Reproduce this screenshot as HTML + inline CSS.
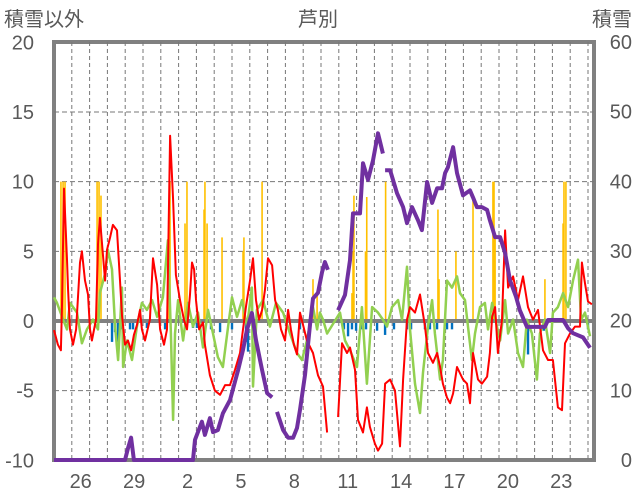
<!DOCTYPE html>
<html><head><meta charset="utf-8">
<style>
body{margin:0;background:#fff;}
#wrap{position:relative;width:636px;height:501px;}
svg text{font-family:"Liberation Sans","Noto Sans CJK JP",sans-serif;fill:#595959;}
#framebox{position:absolute;left:52px;top:40px;width:536px;height:414px;border:4px solid #808080;}
#zerobar{position:absolute;left:54px;top:319px;width:540px;height:4px;background:#808080;}
#chart{position:absolute;left:0;top:0;}
</style></head>
<body>
<div id="wrap">
<div id="framebox"></div>
<div id="zerobar"></div>
<svg id="chart" width="636" height="501" viewBox="0 0 636 501" xmlns="http://www.w3.org/2000/svg">
<g id="grid"></g>
<g id="bars"></g>
<g id="lines"></g>
<g id="labels"></g>
<text x="4" y="26" font-size="20">積雪以外</text>
<text x="318" y="26" font-size="20" text-anchor="middle">芦別</text>
<text x="632" y="26" font-size="20" text-anchor="end">積雪</text>
</svg>
</div>
<script>
const dayLabels=["26","29","2","5","8","11","14","17","20","23"];
const dayLabelIdx=[1,4,7,10,13,16,19,22,25,28];
const leftTicks=[20,15,10,5,0,-5,-10];
const rightTicks=[60,50,40,30,20,10,0];
const redT=[0,0.22,0.39,0.45,0.56,0.73,0.79,0.9,1.07,1.24,1.46,1.57,1.74,1.91,2.02,2.13,2.36,2.47,2.58,2.75,2.87,2.98,3.15,3.31,3.54,3.71,3.82,3.99,4.16,4.33,4.49,4.66,4.83,4.94,5.11,5.39,5.56,5.79,5.96,6.18,6.35,6.52,6.69,6.85,7.08,7.3,7.47,7.64,7.75,7.87,7.98,8.15,8.37,8.48,8.76,9.04,9.33,9.61,9.89,10.17,10.45,10.62,10.79,11.01,11.18,11.35,11.52,11.69,11.85,12.02,12.25,12.42,12.58,12.75,12.98,13.15,13.31,13.48,13.65,13.82,14.21,14.55,14.83,15.11,15.34,15.6,15.96,16.18,16.46,16.63,16.91,17.08,17.36,17.58,17.75,18.03,18.2,18.43,18.6,18.88,19.16,19.44,19.61,19.83,20,20.28,20.56,20.84,21.01,21.29,21.52,21.69,21.85,22.08,22.25,22.42,22.64,22.98,23.2,23.37,23.54,23.82,24.04,24.33,24.49,24.61,24.78,24.94,25.17,25.34,25.51,25.79,26.07,26.35,26.63,26.91,27.19,27.47,27.75,28.03,28.31,28.54,28.71,28.99,29.27,29.55,29.66,29.83,30,30.22];
const redV=[-0.65,-1.7,-2.1,1.15,9.5,4.4,2.2,-0.6,-1.7,-0.6,4.2,5,2.9,1.9,-0.6,-1.4,0.1,5.5,7.4,4.7,2.9,5.1,6,6.9,6.5,2.9,0.4,-1.7,-1.4,-2.1,-1,-0.3,0.8,-0.6,-1.4,0.1,4.5,2.6,-0.6,-1.7,-0.6,13.3,8.7,3.3,1.5,0.1,-0.6,1.9,4.2,3.7,1.5,-0.6,-0.1,-1.7,-3.9,-5,-5.3,-4.6,-4.6,-3.5,-2.3,-0.6,1.1,2.9,4.5,1.5,0.1,0.8,2.2,4.5,4,1.5,0.8,-0.6,-1.4,0.8,-0.6,-1.7,-2.4,0.6,-1.4,-2.3,-3.9,-4.7,-8,null,-6.9,-1.6,-2.3,-1.9,-3.5,-7.1,-8,-6.2,-7.6,-8.8,-9.3,-8.8,-4.5,-4.2,-5,-9,-4.2,0.1,1,0.6,1.9,-0.4,-2.3,-3,-2.3,-3.3,-4.5,-5.5,-5.9,-5.2,-3.3,-4.2,-4.5,-5.9,-2.3,-4.2,-4.5,-4,-2.3,0.3,1,-2.3,0.1,6.5,2.4,3.2,1.5,3.2,1,0.1,0.8,-2.1,-2.8,-2.8,-6.2,-6.4,-1.6,-0.9,-0.4,-0.4,4.2,2.7,1.4,1.2];
const greenT=[0,0.17,0.51,0.73,0.9,1.29,1.57,1.85,2.19,2.47,2.58,2.87,3.03,3.26,3.43,3.6,3.82,3.88,4.1,4.38,4.66,4.94,5.22,5.51,5.79,6.12,6.4,6.57,6.69,6.8,6.97,7.25,7.53,7.81,8.09,8.37,8.65,8.93,9.21,9.49,9.78,10,10.28,10.56,10.84,11.12,11.18,11.4,11.74,12.13,12.47,12.87,13.26,13.65,13.93,14.21,14.55,14.78,14.94,15.11,15.34,16.07,16.35,16.63,17.02,17.3,17.58,17.87,18.2,18.48,18.71,18.99,19.33,19.55,19.83,20,20.28,20.56,20.73,21.01,21.24,21.4,21.69,21.85,22.08,22.36,22.64,22.81,23.09,23.26,23.48,23.65,23.93,24.21,24.38,24.61,24.89,25.06,25.34,25.51,25.79,26.07,26.35,26.57,26.85,27.13,27.3,27.58,27.87,28.03,28.31,28.6,28.88,29.16,29.44,29.61,29.83,30.11];
const greenV=[1.7,1.3,0.1,-0.6,1.3,0.6,-1.6,-0.6,0.1,-0.6,2,3.4,5.1,3.7,-0.4,-2.8,2.4,-3.3,-1.4,-2.8,-0.4,1.3,0.8,1.5,0.3,1.7,5.8,-0.9,-7.1,-0.9,1.5,-1.4,1.3,-0.4,0.6,-1.9,0.8,-0.9,-2.6,-3.3,-0.4,1.7,0.3,1.5,-0.4,2.4,-4.7,0.8,1.5,-0.4,1.3,0.6,-0.9,-2.3,-2.8,-1.4,1,-0.6,0.6,0.1,-0.9,0.6,-1.4,-2.1,-3.3,1,-4.5,1,0.6,0.1,-0.4,1,1.5,0.1,3.9,-0.6,-4.5,-6.6,-3.7,-0.4,1.5,-0.9,-4.2,-2.8,2.9,2.4,3.2,2,1.5,-0.4,-2.8,-0.9,1,1.3,-0.6,1.3,-0.4,-1.4,1.5,-0.9,0.1,-2.3,-3.3,0.1,-0.9,-4.2,-0.9,0.1,-2.3,0.6,1,2,1,2.9,4.4,0.1,0.6,-1.1];
const snowT=[0,3.99,4.16,4.33,4.49,7.81,7.92,8.31,8.48,8.76,8.93,9.21,9.49,9.89,10.34,10.62,10.84,11.12,11.35,11.69,11.97,12.25,12.4,12.53,12.87,13.15,13.43,13.65,13.82,14.1,14.38,14.55,14.83,15.06,15.22,15.39,15.6,15.96,16.35,16.63,16.8,17.19,17.36,17.64,17.92,18.2,18.48,18.55,18.6,18.88,19.27,19.61,19.83,20.11,20.45,20.67,20.96,21.24,21.52,21.8,21.97,22.13,22.42,22.64,22.98,23.37,23.54,23.76,24.04,24.33,24.49,24.78,25.06,25.34,25.62,25.96,26.17,26.57,27.58,27.75,28.6,28.88,29.16,29.72,30.11];
const snowV=[0,0,1.7,3.2,0,0,2.9,5.5,3.6,6,4,4.3,6.7,8.6,12.9,15.8,18.7,21.1,17.2,12.9,9.6,9,null,6.9,4.3,3.2,3.2,4.6,7.2,12.2,19.4,23.2,24,27,28.4,27.3,null,21.5,23.7,28.7,35.4,35.4,42.6,40.2,43,46.9,44,null,41.6,41.6,38.3,36.3,34,36.3,34.4,33,39.9,36.9,39,39,41.2,42,44.9,41.2,38,38.7,37.7,36.3,36.3,35.9,34.4,32,32,29.7,25.8,23.4,21.5,19.1,19.1,20.1,20.1,18.9,18.2,17.6,16.1];
const precipT=[0.39,0.51,0.62,2.42,2.53,2.64,6.46,6.52,7.36,7.47,8.43,8.48,8.6,9.44,10.62,10.67,11.69,14.55,14.78,16.74,16.8,16.85,17.5,17.57,18.63,21.57,21.63,22.58,23.54,24.66,24.72,24.78,27.58,28.6,28.65,28.76];
const precipV=[10,10,10,10,10,9,7,10,7,10,8,10,7,6,5,6,10,3,2,2,5,9,5,8.9,10,8,3,5,8.7,10,10,6,3,7,10,10];
const meltT=[3.26,3.43,3.6,3.82,4.27,4.44,5.22,6.24,7.81,8.03,8.82,9.33,10,10.79,10.9,13.82,16.29,16.52,16.74,16.97,17.3,17.53,18.15,18.6,19.1,19.83,20.06,20.84,21.12,21.52,22.08,22.36,26.63,27.52,30];
const meltV=[-1.5,-0.8,-1.5,-0.6,-0.6,-0.6,-0.5,-0.6,-0.5,-0.5,-0.6,-0.8,-0.6,-1.5,-2.2,-0.6,-0.6,-1.1,-0.6,-0.7,-0.6,-0.6,-0.7,-1,-0.6,-0.6,-0.6,-0.6,-0.6,-0.6,-0.6,-0.6,-2.4,-0.7,-0.6];

const NS="http://www.w3.org/2000/svg";
const X0=54,DAY=17.8,X1=594,YT=42,YB=460;
const xS=t=>X0+t*DAY;
const yL=v=>321-v*((YB-YT)/30);
const yR=s=>YB-s*((YB-YT)/60);
function mk(tag,attrs,parent){const e=document.createElementNS(NS,tag);for(const k in attrs)e.setAttribute(k,attrs[k]);parent.appendChild(e);return e;}
const gGrid=document.getElementById('grid'),gBars=document.getElementById('bars'),gLines=document.getElementById('lines'),gLabels=document.getElementById('labels');
for(let d=1;d<31;d++){const x=xS(d);const l=mk('line',{x1:x,x2:x,y1:YT,y2:YB,stroke:'#777','stroke-width':1,'stroke-dasharray':'4,3'},gGrid);

}
leftTicks.forEach(v=>{if(v===20||v===-10||v===0)return;const y=yL(v);const l=mk('line',{x1:X0,x2:X1,y1:y,y2:y,stroke:'#777','stroke-width':1,'stroke-dasharray':'5,3'},gGrid);

});
precipT.forEach((t,i)=>{const y=yL(precipV[i]);const r=mk('rect',{x:xS(t)-0.8,y:y,width:1.6,height:yL(0)-y,fill:'#FFC000'},gBars);

});
meltT.forEach((t,i)=>{const y0=yL(0);const r=mk('rect',{x:xS(t)-1.2,y:y0,width:2.4,height:yL(meltV[i])-y0,fill:'#0070C0'},gBars);

});
const z=mk('line',{x1:X0,x2:X1,y1:yL(0),y2:yL(0),stroke:'#808080','stroke-width':4},gBars);


function path(T,V,ys){let d='',pen=false;T.forEach((t,i)=>{if(V[i]===null){pen=false;return;}d+=(pen?'L':'M')+xS(t).toFixed(1)+','+ys(V[i]).toFixed(1);pen=true;});return d;}
const gp=mk('path',{d:path(greenT,greenV,yL),fill:'none',stroke:'#92D050','stroke-width':2.5,'stroke-linejoin':'round'},gLines);


const rp=mk('path',{d:path(redT,redV,yL),fill:'none',stroke:'#FF0000','stroke-width':2,'stroke-linejoin':'round'},gLines);


const pp=mk('path',{d:path(snowT,snowV,yR),fill:'none',stroke:'#7030A0','stroke-width':4,'stroke-linejoin':'round'},gLines);


leftTicks.forEach(v=>{const t=mk('text',{x:34,y:yL(v)+7,'text-anchor':'end','font-size':20},gLabels);t.textContent=v;

});
rightTicks.forEach((s,i)=>{const t=mk('text',{x:632,y:yR(s)+7,'text-anchor':'end','font-size':20},gLabels);t.textContent=s;

});
dayLabels.forEach((s,i)=>{const t=mk('text',{x:xS(dayLabelIdx[i]+0.5),y:488,'text-anchor':'middle','font-size':20},gLabels);t.textContent=s;

});
</script>
</body></html>
